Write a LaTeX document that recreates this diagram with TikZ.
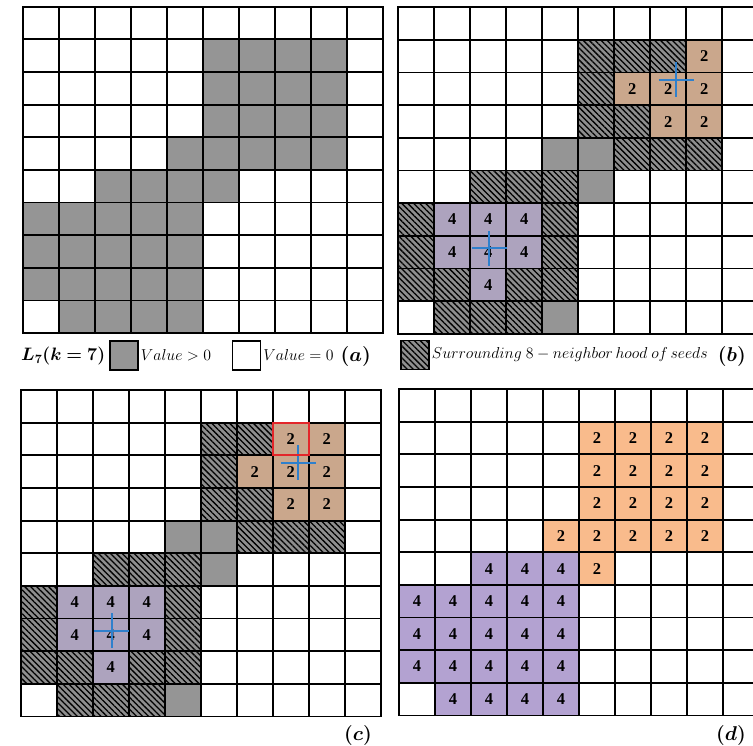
\RequirePackage{fix-cm}
\documentclass[tikz,border=0pt]{standalone}
\usepackage{amsmath,amssymb,bm}
\usepackage{fontspec}
\setmainfont{Liberation Serif}
\usepackage{tikz}
\usetikzlibrary{positioning,patterns.meta}
\definecolor{cellgray}{HTML}{959595}
\definecolor{hatchgray}{HTML}{8E8E8E}
\definecolor{seedtan}{HTML}{CAA78C}
\definecolor{seedlilac}{HTML}{ADA3BE}
\definecolor{groworange}{HTML}{F9BB8C}
\definecolor{growpurple}{HTML}{B3A2D1}
\definecolor{crossblue}{HTML}{2F80CC}
\definecolor{newred}{HTML}{E3262A}
\tikzset{
gridline/.style={line width=1.8pt, line cap=rect},
graycell/.style={fill=cellgray},
hatchcell/.style={fill=hatchgray, postaction={pattern={Lines[angle=-45,distance=4.2pt,line width=1.3pt]}, pattern color=black}},
numtext/.style={font=\fontsize{16.5}{17}\selectfont\bfseries, inner sep=0pt},
seedcross/.style={crossblue, line width=2pt},
newseed/.style={newred, line width=1.8pt},
legendbox/.style={draw, line width=1.5pt, minimum width=28pt, minimum height=29pt, inner sep=0pt},
legendtext/.style={font=\fontsize{15.8}{18}\selectfont, inner sep=1pt},
keytext/.style={font=\fontsize{18}{20}\selectfont, inner sep=0pt},
panellabel/.style={font=\fontsize{20}{22}\selectfont, inner sep=0pt}
}

\begin{document}
\begin{tikzpicture}[x=1pt,y=-1pt]
\useasboundingbox (0,0) rectangle (753,746);
\clip (0,0) rectangle (753,746);

\begin{scope}[shift={(22.6,6.7)},x=36pt,y=-32.65pt]
\foreach \r/\ca/\cb in {1/5/8,2/5/8,3/5/8,4/4/8,5/2/5,6/0/4,7/0/4,8/0/4,9/1/4}
  \foreach \c in {\ca,...,\cb} \fill[graycell] (\c,\r) rectangle ++(1,1);
\foreach \i in {0,...,10} {\draw[gridline] (\i,0) -- (\i,10); \draw[gridline] (0,\i) -- (10,\i);}
\end{scope}

\begin{scope}[shift={(398.3,7.3)},x=36pt,y=-32.65pt]
\fill[hatchcell] (7,1) rectangle ++(1,1);
\end{scope}
\begin{scope}[shift={(20.7,390)},x=36pt,y=-32.65pt]
\fill[seedtan] (7,1) rectangle ++(1,1);
\node[numtext] (c-1-7) at (7.5,1.5) {2};
\end{scope}

\foreach \px/\py/\pn in {398.3/7.3/b,20.7/390/c}{
\begin{scope}[shift={(\px,\py)},x=36pt,y=-32.65pt]
\foreach \r/\c in {4/4,4/5,5/5,9/4} \fill[graycell] (\c,\r) rectangle ++(1,1);
\foreach \r/\c in {1/5,1/6,2/5,3/5,3/6,4/6,4/7,4/8,5/2,5/3,5/4,6/0,6/4,7/0,7/4,8/0,8/1,8/3,8/4,9/1,9/2,9/3}
  \fill[hatchcell] (\c,\r) rectangle ++(1,1);
\foreach \i in {0,...,10} {\draw[gridline] (\i,0) -- (\i,10); \draw[gridline] (0,\i) -- (10,\i);}
\foreach \r/\c in {1/8,2/6,2/7,2/8,3/7,3/8} {
  \fill[seedtan] ([shift={(0.9pt,-0.9pt)}]\c,\r) rectangle ([shift={(-0.9pt,0.9pt)}]\c+1,\r+1);
  \node[numtext] (\pn-\r-\c) at (\c+.5,\r+.5) {2};}
\foreach \r/\c in {6/1,6/2,6/3,7/1,7/2,7/3,8/2} {
  \fill[seedlilac] ([shift={(0.9pt,-0.9pt)}]\c,\r) rectangle ([shift={(-0.9pt,0.9pt)}]\c+1,\r+1);
  \node[numtext] (\pn-\r-\c) at (\c+.5,\r+.5) {4};}
\coordinate (\pn-seedtwo) at (7.714,2.226);
\coordinate (\pn-seedfour) at (2.528,7.38);
\foreach \s in {seedtwo,seedfour} {
  \draw[seedcross] ([xshift=-17.5pt]\pn-\s) -- ([xshift=17.5pt]\pn-\s);
  \draw[seedcross] ([yshift=17.5pt]\pn-\s) -- ([yshift=-17.5pt]\pn-\s);}
\end{scope}}

\begin{scope}[shift={(20.7,390)},x=36pt,y=-32.65pt]
\draw[newseed] (7,1) rectangle (8,2);
\end{scope}

\begin{scope}[shift={(399,389)},x=36pt,y=-32.65pt]
\foreach \r/\ca/\cb in {1/5/8,2/5/8,3/5/8,4/4/8,5/5/5}
  \foreach \c in {\ca,...,\cb} {\fill[groworange] (\c,\r) rectangle ++(1,1);
    \node[numtext] (d-\r-\c) at (\c+.5,\r+.5) {2};}
\foreach \r/\ca/\cb in {5/2/4,6/0/4,7/0/4,8/0/4,9/1/4}
  \foreach \c in {\ca,...,\cb} {\fill[growpurple] (\c,\r) rectangle ++(1,1);
    \node[numtext] (d-\r-\c) at (\c+.5,\r+.5) {4};}
\foreach \i in {0,...,10} {\draw[gridline] (\i,0) -- (\i,10); \draw[gridline] (0,\i) -- (10,\i);}
\end{scope}

\node[keytext, anchor=west] (lkey) at (21,356) {$\bm{L_7(k =7)}$};
\node[legendbox, fill=cellgray] (posbox) at (124,355.5) {};
\node[legendtext, right=1pt of posbox] (postext) {$Value>0$};
\node[legendbox, fill=white] (zerobox) at (246.5,355.5) {};
\node[legendtext, right=1pt of zerobox] (zerotext) {$Value=0$};
\node[panellabel, anchor=east] (alabel) at (371,356) {$\bm{(a)}$};

\node[legendbox, hatchcell] (hatchbox) at (415,355) {};
\node[legendtext, right=1pt of hatchbox] (hatchtext) {$Surrounding\ 8-neighbor\,hood\ of\,seeds$};
\node[panellabel, anchor=east] (blabel) at (746,356) {$\bm{(b)}$};

\node[panellabel] (clabel) at (358,735) {$\bm{(c)}$};
\node[panellabel] (dlabel) at (731,735) {$\bm{(d)}$};
\end{tikzpicture}
\end{document}
